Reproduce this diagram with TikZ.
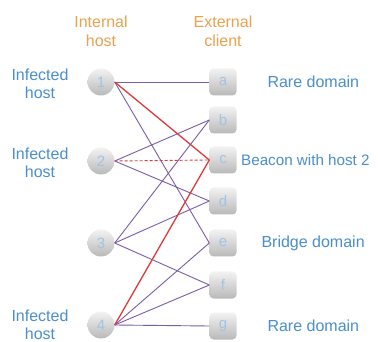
\documentclass[tikz,border=0pt]{standalone}
\usepackage{fontspec}
\setmainfont{Liberation Sans}
\usepackage[]{color}
\usepackage{tikz}
\definecolor{labelblue}{HTML}{4A8FCC}
\definecolor{headorange}{HTML}{E9A24E}
\definecolor{digitblue}{HTML}{A2C3E4}
\definecolor{linkpurple}{HTML}{7A5CA8}
\definecolor{linkred}{HTML}{DD3B3B}

\begin{document}
\begin{tikzpicture}[x=1pt, y=-1pt,
  host/.style={circle, minimum size=27pt, inner sep=0pt, top color=gray!10, bottom color=gray!55, text=digitblue, font=\fontsize{15}{15}\selectfont},
  client/.style={rectangle, rounded corners=4pt, minimum size=27pt, inner sep=0pt, top color=gray!10, bottom color=gray!55, text=digitblue, font=\fontsize{15}{15}\selectfont},
  tag/.style={text=labelblue, align=center, font=\fontsize{16}{18.5}\selectfont},
  head/.style={text=headorange, align=center, font=\fontsize{16}{19}\selectfont},
  link/.style={linkpurple, line width=0.9pt},
  beacon/.style={linkred, line width=1.3pt}]
\useasboundingbox [fill=white] (0,0) rectangle (378,342);
\node [head] (inthead) at (101,31) {Internal\\host};
\node [head] (exthead) at (223,31) {External\\client};
\node [tag] (inf1) at (40,84) {Infected\\host};
\node [tag] (inf2) at (40,163) {Infected\\host};
\node [tag] (inf4) at (40,325) {Infected\\host};
\node [host] (h1) at (101,82) {1};
\node [host] (h2) at (101,161) {2};
\node [host] (h3) at (101,243) {3};
\node [host] (h4) at (101,325) {4};
\node [client] (a) at (223,82) {a};
\node [client] (b) at (223,120) {b};
\node [client] (c) at (223,160) {c};
\node [client] (d) at (223,201) {d};
\node [client] (e) at (223,243) {e};
\node [client] (f) at (223,285) {f};
\node [client] (g) at (223,326) {g};
\node [tag, anchor=west] (rare1) at (264,82) {Rare domain};
\node [tag, anchor=west, inner xsep=1pt, font=\fontsize{15.2}{18}\selectfont] (beacon2) at (240,160) {Beacon with host 2};
\node [tag, anchor=west] (bridge) at (258,243) {Bridge domain};
\node [tag, anchor=west] (rare2) at (264,326) {Rare domain};
\draw [link] (h1.east) -- (a.west);
\draw [link] (h1.east) -- (e.west);
\draw [link] (h2.east) -- (b.west);
\draw [link] (h2.east) -- (d.west);
\draw [link] (h3.east) -- (b.west);
\draw [link] (h3.east) -- (d.west);
\draw [link] (h3.east) -- (f.west);
\draw [link] (h4.east) -- (e.west);
\draw [link] (h4.east) -- (f.west);
\draw [link] (h4.east) -- (g.west);
\draw [beacon] (h1.east) -- (c.west);
\draw [beacon, line width=0.9pt, dash pattern=on 3pt off 2pt] (h2.east) -- (c.west);
\draw [beacon] (h4.east) -- (c.west);
\end{tikzpicture}
\end{document}
